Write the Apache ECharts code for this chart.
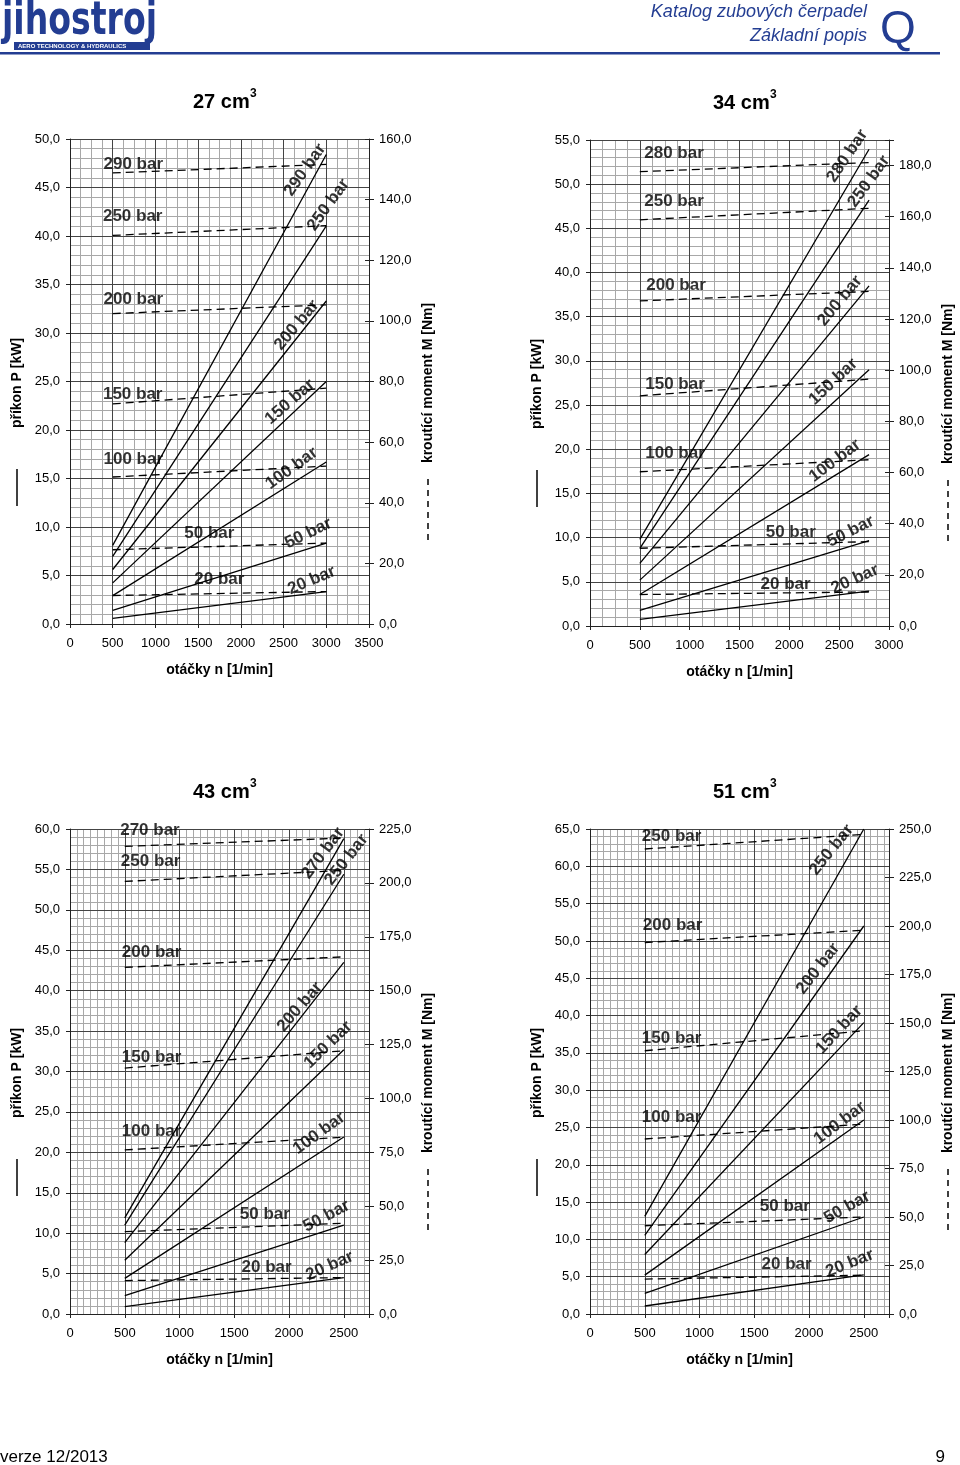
<!DOCTYPE html>
<html><head><meta charset="utf-8">
<script src="https://cdn.jsdelivr.net/npm/echarts@6/dist/echarts.min.js"></script>
<style>html,body{margin:0;padding:0;background:#fff}#c{width:960px;height:1465px}</style>
</head><body><div id="c"></div>
<script>
// ================= DATA =================
// 27 cm3
const speed27 = [500, 3000];
const pressures27 = [20, 50, 100, 150, 200, 250, 290];
const power27 = [[0.59, 3.34], [1.41, 8.34], [2.93, 16.7], [4.24, 25.0], [5.62, 33.3], [6.97, 41.05], [8.1, 48.4]];
const torque27 = [[9.4, 10.7], [24.5, 26.7], [48.5, 52.1], [72.6, 77.8], [102.4, 105.3], [128.2, 131.4], [148.8, 151.6]];
const torqueLabelPos27 = [[1748, 4.6], [1631, 9.35], [741, 17.0], [734, 23.7], [741, 33.5], [734, 42.0], [741, 47.4]];
const powerLabelPos27 = [[2829, 4.5], [2790, 9.35], [2595, 16.05], [2575, 22.9], [2654, 30.8], [3024, 43.2], [2751, 46.8]];
const powerLabelAngle27 = [23, 26, 36, 41, 50, 54, 55];

// 34 cm3
const speed34 = [500, 2800];
const pressures34 = [20, 50, 100, 150, 200, 250, 280];
const power34 = [[0.76, 3.94], [1.78, 9.66], [3.56, 19.4], [5.19, 29.0], [7.08, 38.5], [8.79, 48.2], [9.81, 53.95]];
const torque34 = [[12.3, 13.3], [30.4, 33.0], [60.3, 65.0], [90.0, 96.5], [127.1, 130.8], [158.8, 163.3], [177.6, 181.2]];
const torqueLabelPos34 = [[1963, 4.72], [2014, 10.56], [853, 19.5], [853, 27.3], [863, 38.5], [843, 48.1], [843, 53.5]];
const powerLabelPos34 = [[2659, 5.3], [2616, 10.7], [2458, 18.7], [2441, 27.65], [2508, 36.8], [2799, 50.3], [2582, 53.2]];
const powerLabelAngle34 = [24, 27, 37, 43, 50, 54, 56];

// 43 cm3
const speed43 = [500, 2500];
const pressures43 = [20, 50, 100, 150, 200, 250, 270];
const power43 = [[0.91, 4.5], [2.27, 11.0], [4.41, 21.9], [6.64, 32.7], [8.83, 43.5], [11.0, 54.4], [11.9, 58.8]];
const torque43 = [[15.5, 16.9], [38.2, 42.1], [76.1, 82.0], [114.1, 122.1], [160.8, 165.7], [200.7, 205.8], [216.9, 220.8]];
const torqueLabelPos43 = [[1795, 5.78], [1779, 12.37], [745, 22.64], [745, 31.75], [745, 44.7], [736, 55.96], [730, 59.8]];
const powerLabelPos43 = [[2372, 5.94], [2342, 12.1], [2275, 22.36], [2357, 33.3], [2099, 38.0], [2524, 56.2], [2311, 57.0]];
const powerLabelAngle43 = [24, 28, 36, 44, 49, 52, 53];

// 51 cm3
const speed51 = [500, 2500];
const pressures51 = [20, 50, 100, 150, 200, 250];
const power51 = [[1.07, 5.25], [2.76, 13.0], [5.21, 26.0], [7.97, 39.05], [10.55, 52.0], [13.08, 65.0]];
const torque51 = [[18.0, 20.0], [45.5, 50.0], [90.2, 97.9], [135.7, 146.0], [191.5, 197.8], [239.7, 247.2]];
const torqueLabelPos51 = [[1795, 6.7], [1779, 14.4], [745, 26.4], [745, 37.0], [754, 52.1], [745, 63.97]];
const powerLabelPos51 = [[2372, 6.8], [2348, 14.3], [2281, 25.6], [2275, 38.1], [2083, 46.3], [2205, 62.2]];
const powerLabelAngle51 = [22, 29, 37, 47, 52, 51];

// ================= LAYOUT / STYLE =================
const FONT = '"Liberation Sans", Arial, sans-serif';
const BLUE = '#233d92';
const charts = [
  {title: '27', speed: speed27, pressures: pressures27, power: power27, torque: torque27,
   tPos: torqueLabelPos27, pPos: powerLabelPos27, pAng: powerLabelAngle27,
   xMax: 3500, xMinor: 125, yMax: 50, yMinor: 1, rMax: 160, rInt: 20,
   box: {left: 70, top: 139, width: 299, height: 485}},
  {title: '34', speed: speed34, pressures: pressures34, power: power34, torque: torque34,
   tPos: torqueLabelPos34, pPos: powerLabelPos34, pAng: powerLabelAngle34,
   xMax: 3000, xMinor: 125, yMax: 55, yMinor: 1, rMax: 190, rInt: 20,
   box: {left: 590, top: 140, width: 299, height: 486}},
  {title: '43', speed: speed43, pressures: pressures43, power: power43, torque: torque43,
   tPos: torqueLabelPos43, pPos: powerLabelPos43, pAng: powerLabelAngle43,
   xMax: 2730, xMinor: 62.5, yMax: 60, yMinor: 1, rMax: 225, rInt: 25,
   box: {left: 70, top: 829, width: 299, height: 485}},
  {title: '51', speed: speed51, pressures: pressures51, power: power51, torque: torque51,
   tPos: torqueLabelPos51, pPos: powerLabelPos51, pAng: powerLabelAngle51,
   xMax: 2730, xMinor: 62.5, yMax: 65, yMinor: 1, rMax: 250, rInt: 25,
   box: {left: 590, top: 829, width: 299, height: 485}}
];

function fmt1(v) { return v.toFixed(1).replace('.', ','); }
const axisTxt = {color: '#000', fontSize: 13, fontFamily: FONT};
const majorLine = {color: '#444', width: 1};
const minorLine = {color: '#a8a8a8', width: 1};
const NY = 4; // y axes per grid

const grid = [], xAxis = [], yAxis = [], series = [], graphic = [];

charts.forEach((c, i) => {
  grid.push(Object.assign({containLabel: false}, c.box));
  // main x
  xAxis.push({type: 'value', gridIndex: i, min: 0, max: c.xMax, interval: 500, z: 2,
    axisLine: {show: true, onZero: false, lineStyle: {color: '#222', width: 1}},
    axisTick: {show: true, length: 4, lineStyle: {color: '#222'}},
    axisLabel: Object.assign({margin: 13, formatter: v => (v % 500 === 0 ? String(v) : '')}, axisTxt),
    splitLine: {show: true, lineStyle: majorLine}});
  // minor x
  xAxis.push({type: 'value', gridIndex: i, min: 0, max: c.xMax, interval: c.xMinor, z: 1,
    axisLine: {show: false, onZero: false}, axisTick: {show: false}, axisLabel: {show: false},
    splitLine: {show: true, lineStyle: minorLine}});
  // left main y
  yAxis.push({type: 'value', gridIndex: i, position: 'left', min: 0, max: c.yMax, interval: 5, z: 2,
    axisLine: {show: true, onZero: false, lineStyle: {color: '#222', width: 1}},
    axisTick: {show: true, length: 4, lineStyle: {color: '#222'}},
    axisLabel: Object.assign({margin: 10, formatter: fmt1}, axisTxt),
    splitLine: {show: true, lineStyle: majorLine}});
  // right y (torque)
  const rFmt = v => (Math.abs(v / c.rInt - Math.round(v / c.rInt)) < 1e-6 ? fmt1(v) : '');
  yAxis.push({type: 'value', gridIndex: i, position: 'right', min: 0, max: c.rMax, interval: c.rInt, z: 2,
    axisLine: {show: true, onZero: false, lineStyle: {color: '#222', width: 1}},
    axisTick: {show: true, length: 5, lineStyle: {color: '#222'}},
    axisLabel: Object.assign({margin: 10, formatter: rFmt}, axisTxt),
    splitLine: {show: false}});
  // minor y
  yAxis.push({type: 'value', gridIndex: i, position: 'left', min: 0, max: c.yMax, interval: c.yMinor, z: 1,
    axisLine: {show: false, onZero: false}, axisTick: {show: false}, axisLabel: {show: false},
    splitLine: {show: true, lineStyle: minorLine}});
  // right y inner ticks (ticks cross the axis line)
  yAxis.push({type: 'value', gridIndex: i, position: 'right', min: 0, max: c.rMax, interval: c.rInt, z: 3,
    axisLine: {show: false, onZero: false},
    axisTick: {show: true, inside: true, length: 4, lineStyle: {color: '#222'}},
    axisLabel: {show: false}, splitLine: {show: false}});

  c.pressures.forEach((p, k) => {
    series.push({name: c.title + ' P ' + p, type: 'line', xAxisIndex: i * 2, yAxisIndex: i * NY,
      data: c.speed.map((n, j) => [n, c.power[k][j]]), symbol: 'none', showSymbol: false,
      lineStyle: {color: '#000', width: 1.3}, silent: true, z: 5});
    series.push({name: c.title + ' M ' + p, type: 'line', xAxisIndex: i * 2, yAxisIndex: i * NY + 1,
      data: c.speed.map((n, j) => [n, c.torque[k][j]]), symbol: 'none', showSymbol: false,
      lineStyle: {color: '#000', width: 1.3, type: [8, 5]}, silent: true, z: 5});
  });

  const lblStyle = {show: true, position: 'inside', color: '#000', fontSize: 17, fontWeight: 'bold', fontFamily: FONT,
    formatter: prm => prm.name};
  const items = [];
  c.pressures.forEach((p, k) => {
    items.push({name: p + ' bar', value: c.tPos[k], label: {rotate: 0}});
    items.push({name: p + ' bar', value: c.pPos[k], label: {rotate: c.pAng[k]}});
  });
  series.push({type: 'scatter', xAxisIndex: i * 2, yAxisIndex: i * NY, symbolSize: 1,
    itemStyle: {color: 'rgba(0,0,0,0)'}, label: lblStyle, data: items, silent: true, z: 6});

  // titles & axis names
  const b = c.box;
  const cx = b.left + b.width / 2;
  graphic.push({type: 'text', x: b.left + 123, y: b.top - 37, style: {text: c.title + ' cm', font: 'bold 20px ' + FONT, fill: '#000', textAlign: 'left', textVerticalAlign: 'middle'}});
  graphic.push({type: 'text', x: b.left + 180, y: b.top - 45, style: {text: '3', font: 'bold 12px ' + FONT, fill: '#000', textAlign: 'left', textVerticalAlign: 'middle'}});
  graphic.push({type: 'text', x: cx, y: b.top + b.height + 46, style: {text: 'otáčky n [1/min]', font: 'bold 14px ' + FONT, fill: '#000', textAlign: 'center', textVerticalAlign: 'middle'}});
  const lx = b.left - 53, rx = b.left + b.width + 59;
  graphic.push({type: 'text', x: lx, y: b.top + 244, rotation: Math.PI / 2, style: {text: 'příkon P [kW]', font: 'bold 14px ' + FONT, fill: '#000', textAlign: 'center', textVerticalAlign: 'middle'}});
  graphic.push({type: 'line', shape: {x1: lx, y1: b.top + 330, x2: lx, y2: b.top + 367}, style: {stroke: '#000', lineWidth: 1.5}});
  graphic.push({type: 'text', x: rx, y: b.top + 244, rotation: Math.PI / 2, style: {text: 'kroutící moment M [Nm]', font: 'bold 14px ' + FONT, fill: '#000', textAlign: 'center', textVerticalAlign: 'middle'}});
  graphic.push({type: 'line', shape: {x1: rx, y1: b.top + 340, x2: rx, y2: b.top + 404}, style: {stroke: '#000', lineWidth: 1.5, lineDash: [6, 5]}});
});

// header / footer
graphic.push({type: 'text', x: 2, y: 22, scaleX: 0.72, style: {text: 'jihostroj', font: 'bold 46px "DejaVu Sans", sans-serif', fill: BLUE, textAlign: 'left', textVerticalAlign: 'middle'}});
graphic.push({type: 'rect', shape: {x: 14, y: 42, width: 136, height: 8}, style: {fill: BLUE}});
graphic.push({type: 'text', x: 18, y: 46.5, style: {text: 'AERO TECHNOLOGY & HYDRAULICS', font: 'bold 6px ' + FONT, fill: '#fff', textAlign: 'left', textVerticalAlign: 'middle'}});
graphic.push({type: 'rect', shape: {x: 0, y: 52, width: 940, height: 2.5}, style: {fill: BLUE}});
graphic.push({type: 'text', x: 867, y: 12, style: {text: 'Katalog zubových čerpadel', font: 'italic 18px ' + FONT, fill: BLUE, textAlign: 'right', textVerticalAlign: 'middle'}});
graphic.push({type: 'text', x: 867, y: 36, style: {text: 'Základní popis', font: 'italic 18px ' + FONT, fill: BLUE, textAlign: 'right', textVerticalAlign: 'middle'}});
graphic.push({type: 'text', x: 898, y: 30, style: {text: 'Q', font: '46px ' + FONT, fill: BLUE, textAlign: 'center', textVerticalAlign: 'middle'}});
graphic.push({type: 'text', x: 0, y: 1457, style: {text: 'verze 12/2013', font: '17px ' + FONT, fill: '#000', textAlign: 'left', textVerticalAlign: 'middle'}});
graphic.push({type: 'text', x: 945, y: 1457, style: {text: '9', font: '17px ' + FONT, fill: '#000', textAlign: 'right', textVerticalAlign: 'middle'}});

const chart = echarts.init(document.getElementById('c'), null, {renderer: 'canvas'});
chart.setOption({animation: false, backgroundColor: '#fff', grid, xAxis, yAxis, series, graphic});
</script></body></html>
